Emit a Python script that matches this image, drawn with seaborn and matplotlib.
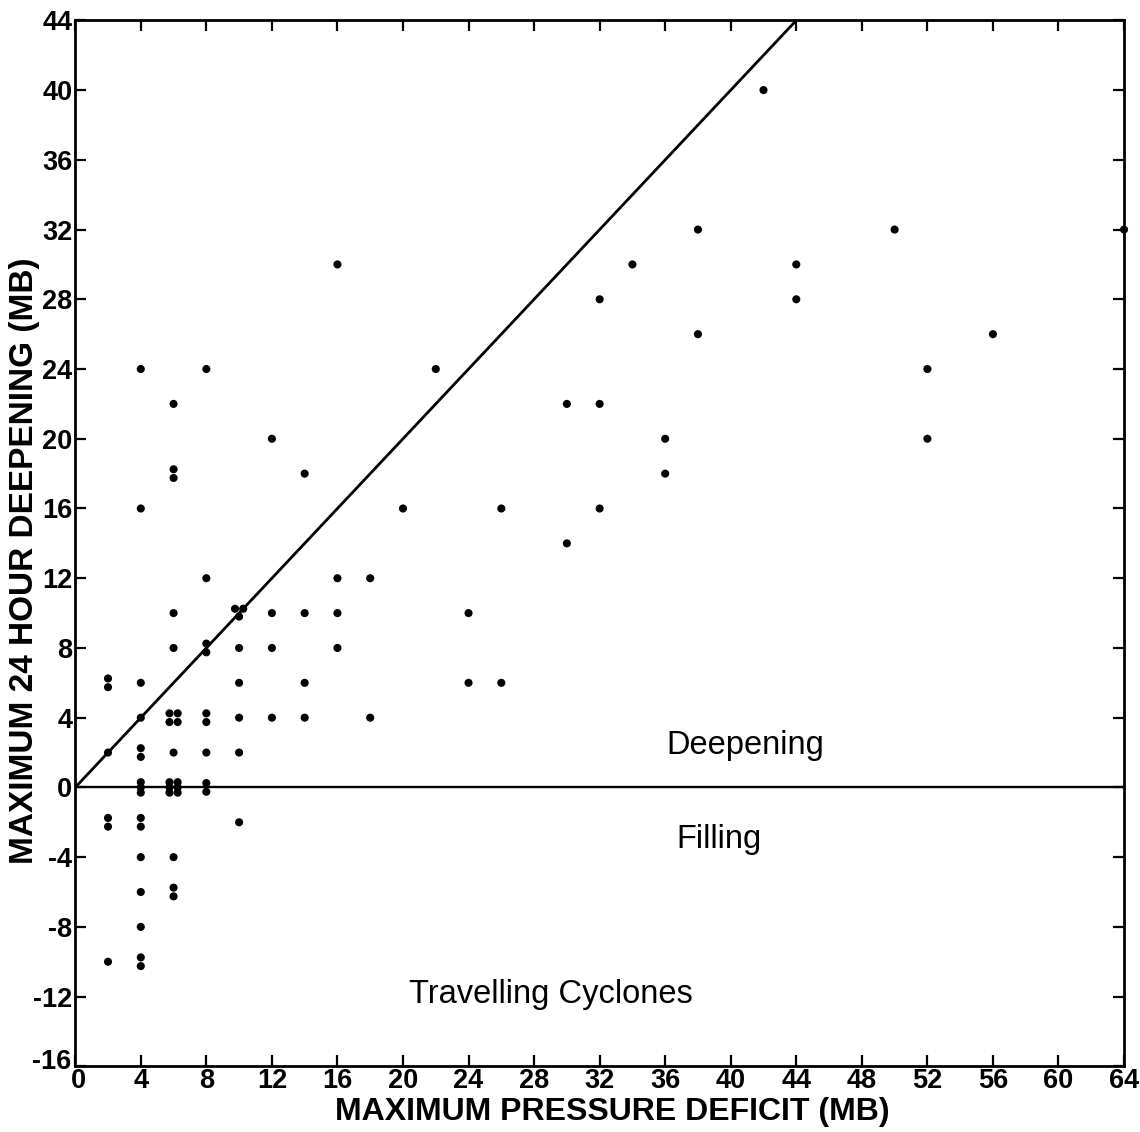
import matplotlib
matplotlib.use("Agg")
import matplotlib.pyplot as plt
import matplotlib.transforms as mtransforms
import seaborn as sns
import pandas as pd
import numpy as np

# ---- data ----
pressure_deficit = [
    2, 2, 2, 2, 2, 2,
    4, 4, 4, 4, 4, 4, 4, 4, 4, 4, 4, 4, 4, 4, 4, 4,
    6, 6, 6, 6, 6, 6, 6, 6, 6,
    5.75, 5.75, 5.75, 5.75, 5.75,
    6.25, 6.25, 6.25, 6.25, 6.25,
    8, 8, 8, 8, 8, 8, 8, 8, 8,
    9.75, 10.25, 10, 10, 10, 10, 10, 10,
    12, 12, 12, 12,
    14, 14, 14, 14,
    16, 16, 16, 16,
    18, 18,
    20, 22, 24, 24, 26, 26,
    30, 30, 32, 32, 32, 34, 36, 36, 38, 38,
    42, 44, 44, 50, 52, 52, 56, 64,
]
deepening = [
    6.25, 5.75, 2, -1.75, -2.25, -10,
    24, 16, 6, 4, 2.25, 1.75, 0.3, 0, -0.3, -1.75, -2.25, -4, -6, -8, -9.75, -10.25,
    22, 18.25, 17.75, 10, 8, 2, -4, -5.75, -6.25,
    4.25, 3.75, 0.3, 0, -0.3,
    4.25, 3.75, 0.3, 0, -0.3,
    24, 12, 8.25, 7.75, 4.25, 3.75, 2, 0.25, -0.25,
    10.25, 10.25, 9.8, 8, 6, 4, 2, -2,
    20, 10, 8, 4,
    18, 10, 6, 4,
    30, 12, 10, 8,
    12, 4,
    16, 24, 10, 6, 16, 6,
    22, 14, 28, 22, 16, 30, 20, 18, 32, 26,
    40, 30, 28, 32, 24, 20, 26, 32,
]
line_x = [0, 44]
line_y = [0, 44]
x_ticks = list(range(0, 65, 4))
y_ticks = list(range(-16, 45, 4))
region_labels = ["Deepening", "Filling", "Travelling Cyclones"]
region_x = [40.9, 39.3, 29.0]
region_y = [2.4, -3.0, -11.9]

df = pd.DataFrame({"x": pressure_deficit, "y": deepening})
dline = pd.DataFrame({"x": line_x, "y": line_y})

sns.set_style("ticks")
plt.rcParams["font.family"] = ["Liberation Sans", "DejaVu Sans"]
plt.rcParams["text.color"] = "black"
plt.rcParams["axes.labelcolor"] = "black"
plt.rcParams["xtick.color"] = "black"
plt.rcParams["ytick.color"] = "black"

fig = plt.figure(figsize=(11.4, 11.32), dpi=100)
ax = fig.add_axes([0.066, 0.058, 0.920, 0.924])

sns.lineplot(data=dline, x="x", y="y", ax=ax, color="black", linewidth=2.0)
ax.axhline(0, color="black", linewidth=1.7)
sns.scatterplot(data=df, x="x", y="y", ax=ax, color="black", s=34,
                edgecolor="none", linewidth=0, zorder=5, clip_on=False)

ax.set_xlim(0, 64)
ax.set_ylim(-16, 44)
ax.set_xticks(x_ticks)
ax.set_yticks(y_ticks)
tick_font = ["Liberation Sans Narrow", "Liberation Sans"]
ax.set_xticklabels([str(t) for t in x_ticks], fontfamily=tick_font,
                   fontweight="bold", fontsize=19.5, color="black")
ax.set_yticklabels([str(t) for t in y_ticks], fontfamily=tick_font,
                   fontweight="bold", fontsize=19.5, color="black")
ax.tick_params(direction="in", length=8, width=1.6, top=True, right=True,
               pad=2, colors="black")
ax.tick_params(axis="x", pad=1)
for sp in ax.spines.values():
    sp.set_linewidth(2.0)
    sp.set_color("black")
    sp.set_visible(True)

# nudge the corner labels apart as in the reference
shift_up = mtransforms.ScaledTranslation(-1 / 100, 7 / 100, fig.dpi_scale_trans)
ylab0 = ax.get_yticklabels()[0]
ylab0.set_transform(ylab0.get_transform() + shift_up)
shift_right = mtransforms.ScaledTranslation(3 / 100, 0, fig.dpi_scale_trans)
xlab0 = ax.get_xticklabels()[0]
xlab0.set_transform(xlab0.get_transform() + shift_right)

ax.set_xlabel("MAXIMUM PRESSURE DEFICIT (MB)", fontsize=23, fontweight="bold",
              color="black")
ax.set_ylabel("MAXIMUM 24 HOUR DEEPENING (MB)", fontsize=24, fontweight="bold",
              color="black")
ax.xaxis.set_label_coords(0.512, -0.029)
ax.yaxis.set_label_coords(-0.034, 0.483)

for lab, tx, ty in zip(region_labels, region_x, region_y):
    ax.text(tx, ty, lab, fontsize=23.5, ha="center", va="center", color="black")

fig.savefig("out.png", dpi=100)
